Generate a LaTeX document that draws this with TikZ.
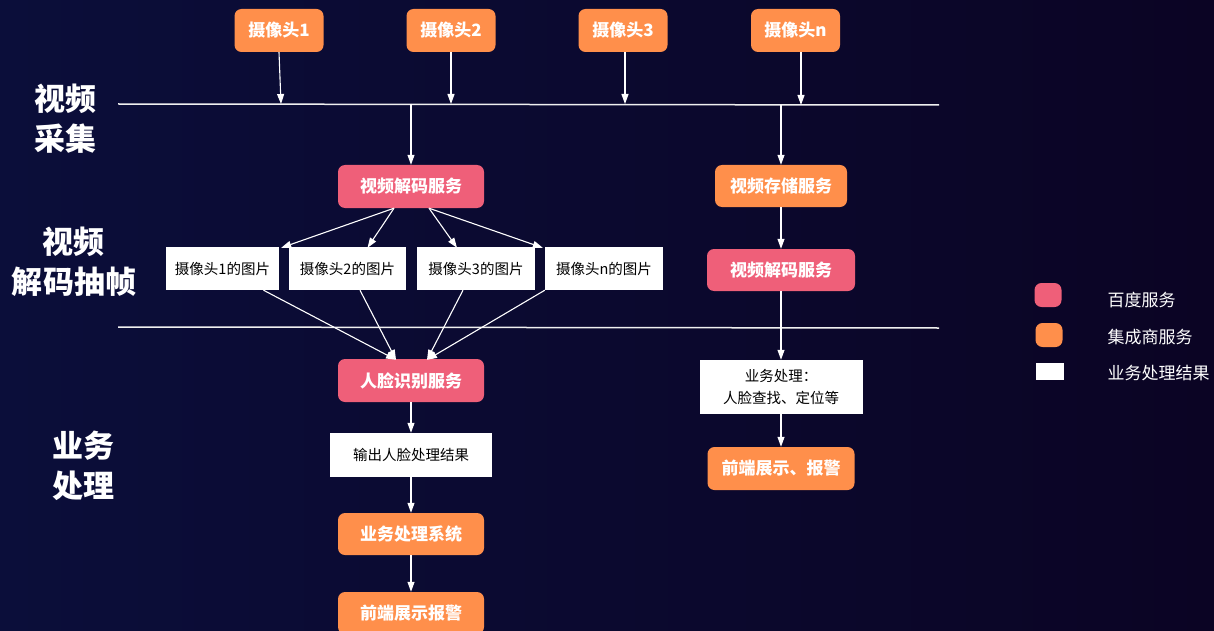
\documentclass[tikz,border=0pt]{standalone}
\usepackage{fontspec}
\setmainfont{Noto Sans CJK SC}
\usetikzlibrary{arrows.meta}
\definecolor{orangebox}{HTML}{FF8F4B}
\definecolor{pinkbox}{HTML}{EF5F79}
\definecolor{bgleft}{HTML}{0B0E3A}
\definecolor{bgmid}{HTML}{170939}
\definecolor{bgright}{HTML}{0B0424}
\tikzset{
 svc/.style={rounded corners=7pt, text=white, font=\bfseries\fontsize{17}{20}\selectfont, inner sep=0pt, align=center},
 orangesvc/.style={svc, fill=orangebox},
 pinksvc/.style={svc, fill=pinkbox},
 result/.style={fill=white, text=black, inner sep=0pt, font=\fontsize{14.5}{22}\selectfont, align=center},
 flow/.style={draw=white, line width=1.1pt, -{Triangle[length=10pt,width=7pt]}},
 sepline/.style={draw=white!88!gray, line width=1.5pt},
 stage/.style={text=white, font=\bfseries\fontsize{31}{40}\selectfont, align=center},
 legendtext/.style={text=white, font=\fontsize{17}{20}\selectfont, anchor=west}
}
\begin{document}
\begin{tikzpicture}[x=1pt,y=-1pt]
\useasboundingbox (0,0) rectangle (1214,631);
\shade[left color=bgleft, middle color=bgmid, right color=bgright] (0,0) rectangle (1214,631);

% stage labels
\node[stage] (st1) at (65,119) {视频\\采集};
\node[stage] (st2) at (74,262) {视频\\解码抽帧};
\node[stage] (st3) at (83,466) {业务\\处理};

% separator lines
\coordinate (l1a) at (118,104);
\coordinate (l1b) at (939,105);
\coordinate (l2a) at (118,327);
\coordinate (l2b) at (939,328);
\draw[sepline] (l1a) -- (l1b);
\draw[sepline] (l2a) -- (l2b);

% cameras
\node[orangesvc, minimum width=89pt, minimum height=43pt] (cam1) at (279,30.5) {摄像头1};
\node[orangesvc, minimum width=89pt, minimum height=43pt] (cam2) at (451,30.5) {摄像头2};
\node[orangesvc, minimum width=89pt, minimum height=43pt] (cam3) at (623,30.5) {摄像头3};
\node[orangesvc, minimum width=89pt, minimum height=43pt] (camn) at (795.5,30.5) {摄像头n};

\coordinate (t1) at (281,104);
\coordinate (t2) at (451,104);
\coordinate (t3) at (625,104);
\coordinate (tn) at (801,105);
\draw[flow] (cam1.south) -- (t1);
\draw[flow] (cam2.south) -- (t2);
\draw[flow] (cam3.south -| t3) -- (t3);
\draw[flow] (camn.south -| tn) -- (tn);

% left column
\coordinate (b1) at (411,104);
\node[pinksvc, minimum width=146pt, minimum height=43pt] (dec) at (411,186.5) {视频解码服务};
\draw[flow] (b1) -- (dec.north);

\node[result, minimum width=113pt, minimum height=43pt] (pic1) at (222.5,268.5) {摄像头1的图片};
\node[result, minimum width=117pt, minimum height=43pt] (pic2) at (347.5,268.5) {摄像头2的图片};
\node[result, minimum width=118pt, minimum height=43pt] (pic3) at (476,268.5) {摄像头3的图片};
\node[result, minimum width=118pt, minimum height=43pt] (pic4) at (604,268.5) {摄像头n的图片};

\draw[flow] ([xshift=-17pt]dec.south) -- ([xshift=2pt,yshift=-1pt]pic1.north east);
\draw[flow] ([xshift=-17pt]dec.south) -- ([xshift=20pt,yshift=-1pt]pic2.north);
\draw[flow] ([xshift=18pt]dec.south) -- ([xshift=-19pt,yshift=-1pt]pic3.north);
\draw[flow] ([xshift=18pt]dec.south) -- ([xshift=-2pt,yshift=-1pt]pic4.north west);

\node[pinksvc, minimum width=146pt, minimum height=43pt] (face) at (411,380.5) {人脸识别服务};
\draw[flow] ([xshift=41pt]pic1.south) -- ([xshift=-15pt,yshift=-1pt]face.north);
\draw[flow] ([xshift=12.5pt]pic2.south) -- ([xshift=-15pt,yshift=-1pt]face.north);
\draw[flow] ([xshift=-13pt]pic3.south) -- ([xshift=16pt,yshift=-1pt]face.north);
\draw[flow] (pic4.south west) -- ([xshift=16pt,yshift=-1pt]face.north);

\node[result, minimum width=162pt, minimum height=44pt] (out) at (411,455) {输出人脸处理结果};
\draw[flow] (face.south) -- (out.north);
\node[orangesvc, minimum width=146pt, minimum height=42pt] (biz) at (411,534) {业务处理系统};
\draw[flow] (out.south) -- (biz.north);
\node[orangesvc, minimum width=146pt, minimum height=42pt] (front) at (411,613) {前端展示报警};
\draw[flow] (biz.south) -- (front.north);

% right column
\coordinate (b2) at (781,105);
\node[orangesvc, minimum width=132pt, minimum height=42pt] (store) at (781,186) {视频存储服务};
\draw[flow] (b2) -- (store.north);
\node[pinksvc, minimum width=148pt, minimum height=42pt] (dec2) at (781,270) {视频解码服务};
\draw[flow] (store.south) -- (dec2.north);
\node[result, minimum width=163pt, minimum height=54pt] (proc) at (781,387) {业务处理：\\人脸查找、定位等};
\draw[flow] (dec2.south) -- (proc.north);
\node[orangesvc, minimum width=147pt, minimum height=43pt] (front2) at (781,468.5) {前端展示、报警};
\draw[flow] (proc.south) -- (front2.north);

% legend
\node[fill=pinkbox, rounded corners=7pt, minimum width=27pt, minimum height=24pt, inner sep=0pt] (lg1) at (1048,295) {};
\node[legendtext] (lt1) at (1104,300) {百度服务};
\node[fill=orangebox, rounded corners=7pt, minimum width=27pt, minimum height=24pt, inner sep=0pt] (lg2) at (1049,335) {};
\node[legendtext] (lt2) at (1104,337) {集成商服务};
\node[fill=white, minimum width=28pt, minimum height=17pt, inner sep=0pt] (lg3) at (1050,371) {};
\node[legendtext] (lt3) at (1104,373) {业务处理结果};
\end{tikzpicture}
\end{document}
